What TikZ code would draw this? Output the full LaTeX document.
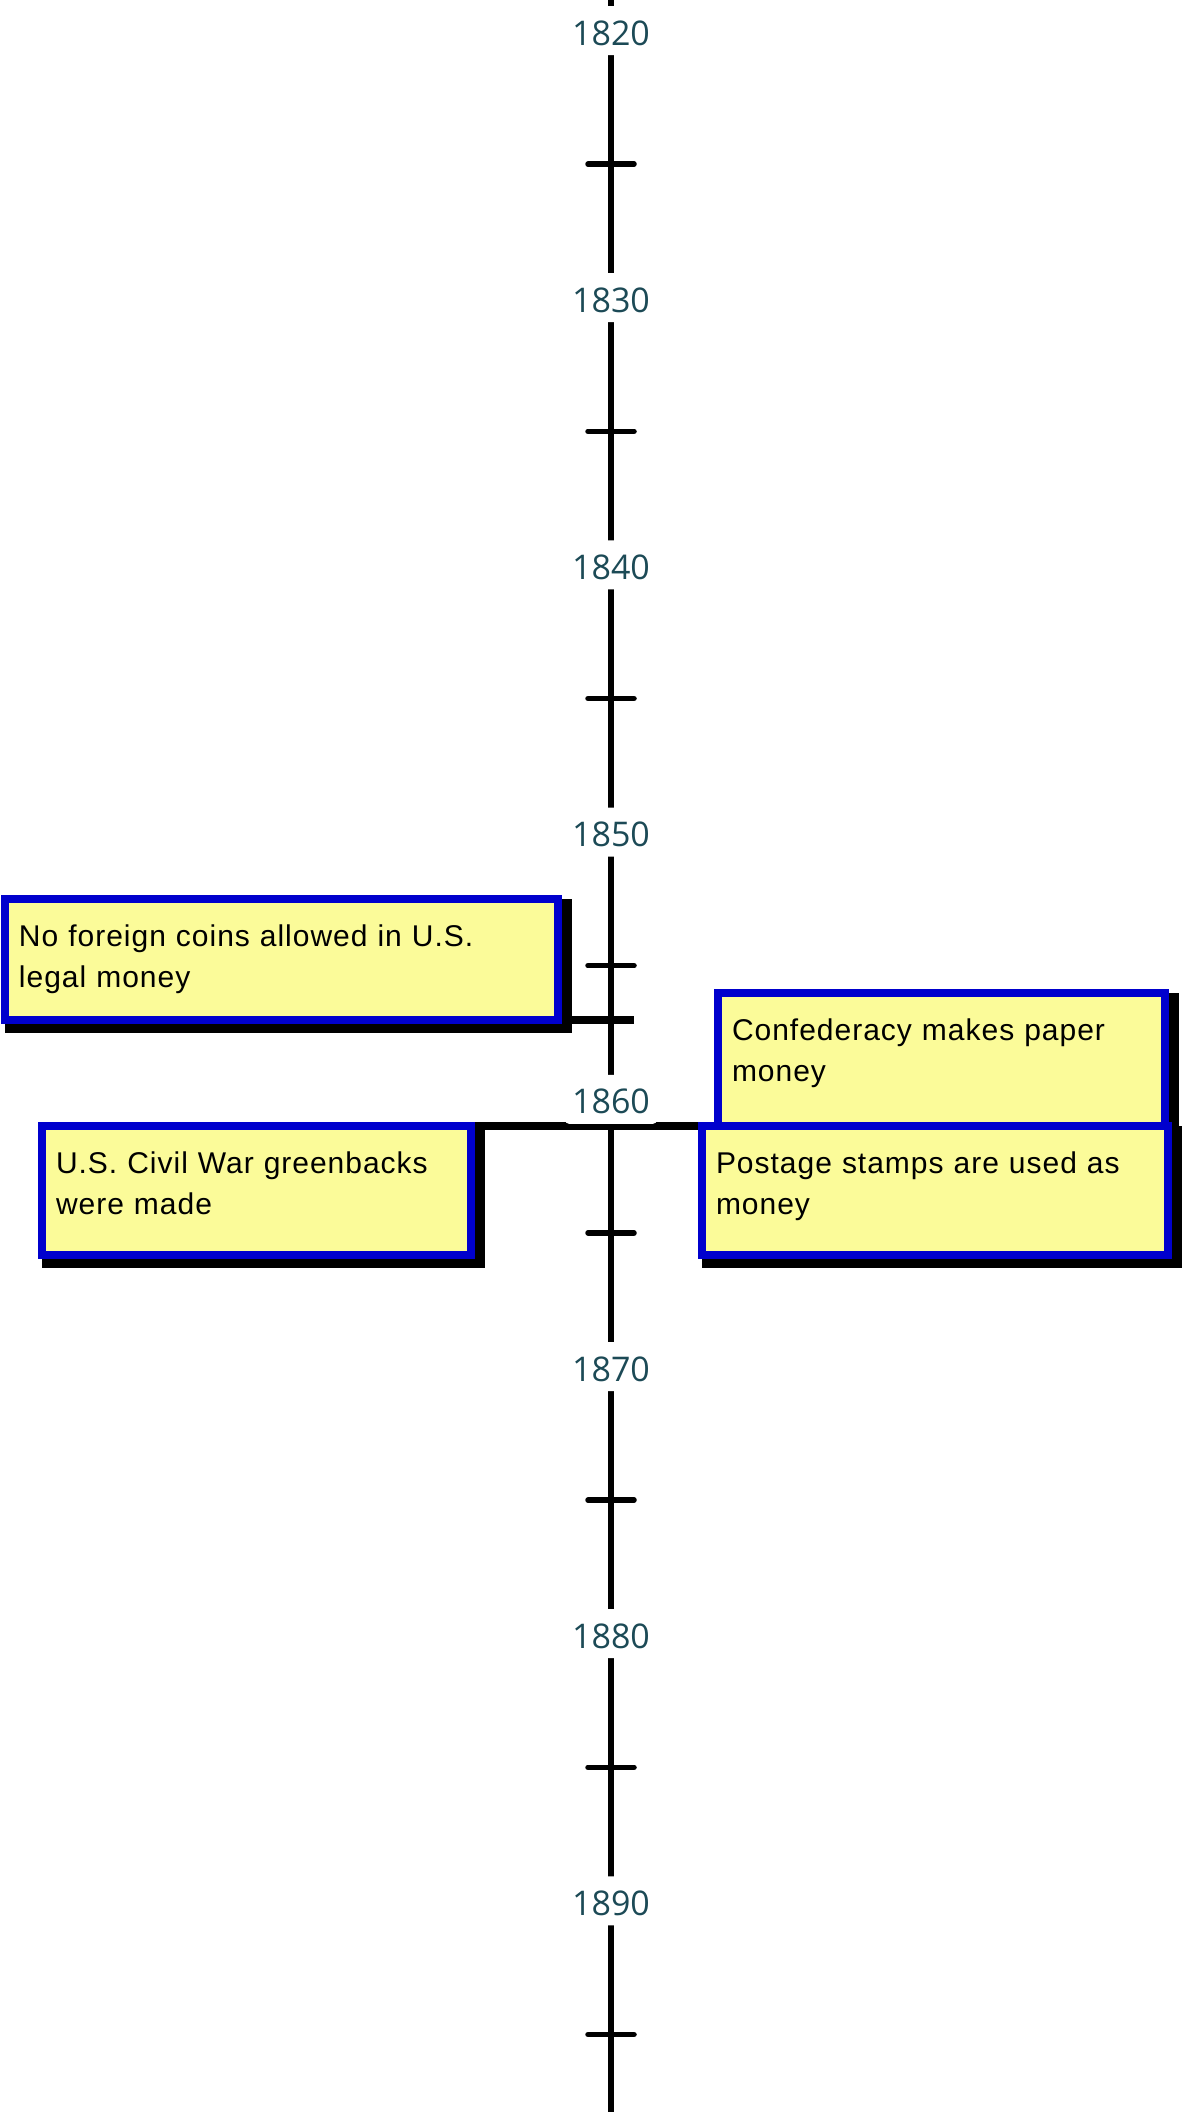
\documentclass[tikz,border=0pt]{standalone}
\usepackage{fontspec}
\setmainfont{Liberation Sans}[LetterSpace=3.3]
\newfontfamily\yearfont{Open Sans}
\usetikzlibrary{calc, backgrounds}
\definecolor{event-blue}{HTML}{0000CD}
\definecolor{event-yellow}{HTML}{FBFB99}
\definecolor{year-teal}{HTML}{1C4A56}

\tikzset{
  eventbox/.style={draw=event-blue, line width=8pt, fill=event-yellow, outer sep=0pt,
    inner xsep=14pt, inner ysep=0pt, anchor=north west, align=left,
    text height=47pt, font={\fontsize{30}{41}\selectfont}},
  yearlabel/.style={fill=white, rounded corners=4pt, minimum width=92pt, minimum height=49pt,
    inner sep=0pt, text height=29pt, text depth=0pt, text=year-teal,
    font={\yearfont\fontsize{34}{38}\selectfont}},
  timeline/.style={line width=5.5pt},
  link/.style={line width=7.5pt}
}

\begin{document}
\begin{tikzpicture}[x=1pt, y=-1pt]
    \useasboundingbox (0,0) rectangle (1184,2112);

    % Timeline axis with half-decade ticks
    \draw[timeline] (611,0) -- (611,2112);
    \foreach \yr in {1825,1835,...,1895}
        \draw[timeline, line cap=round] (588,{30.5+(\yr-1820)*26.72}) -- (634,{30.5+(\yr-1820)*26.72});

    % Decade labels
    \foreach \yr in {1820,1830,...,1890}
        \node[yearlabel] (y\yr) at (611,{30.5+(\yr-1820)*26.72}) {\yr};

    % Events
    \node[eventbox, text width=525pt, text depth=74pt] (coins) at (5,899) {No foreign coins allowed in U.S.\\legal money};
    \node[eventbox, text width=419pt, text depth=86pt] (confed) at (718,993) {Confederacy makes paper\\money};
    \node[eventbox, text width=401pt, text depth=82pt] (greenbacks) at (42,1126) {U.S. Civil War greenbacks\\were made};
    \node[eventbox, text width=438pt, text depth=82pt] (stamps) at (702,1126) {Postage stamps are used as\\money};
    \coordinate (t1857) at (634,1020);

    % Shadows and links behind the boxes
    \begin{scope}[on background layer]
        \foreach \ev in {coins,confed,greenbacks,stamps}
            \fill (\ev.north west) rectangle ($(\ev.south east)+(14,13)$);
        \draw[link] (coins.south east) -- (t1857);
        \draw[link] (greenbacks.north east) -- (stamps.north west);
    \end{scope}
\end{tikzpicture}
\end{document}
